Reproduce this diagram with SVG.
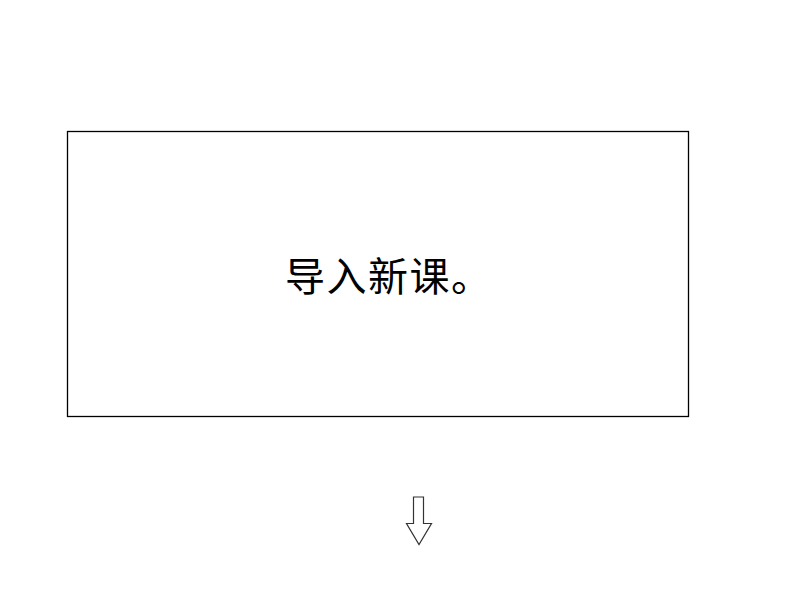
<svg xmlns="http://www.w3.org/2000/svg" width="794" height="596" viewBox="0 0 794 596">
<style>
.box{fill:#fff;stroke:#000;stroke-width:1.3}
.lbl{font-family:"Noto Sans CJK SC","Noto Sans",sans-serif;font-size:40px;fill:#000}
.arr{fill:#fff;stroke:#333;stroke-width:1.2}
</style>
<rect width="794" height="596" fill="#fff"/>
<g id="node1">
<rect class="box" x="67.5" y="131.5" width="621" height="285"/>
<text class="lbl" x="285" y="291" letter-spacing="1.5">导入新课。</text>
</g>
<g id="connectors">
<path class="arr" d="M413.5,497 L423.5,497 L423.5,523.5 L431.5,523.5 L419,544.5 L406.5,523.5 L413.5,523.5 Z"/>
</g>
</svg>
